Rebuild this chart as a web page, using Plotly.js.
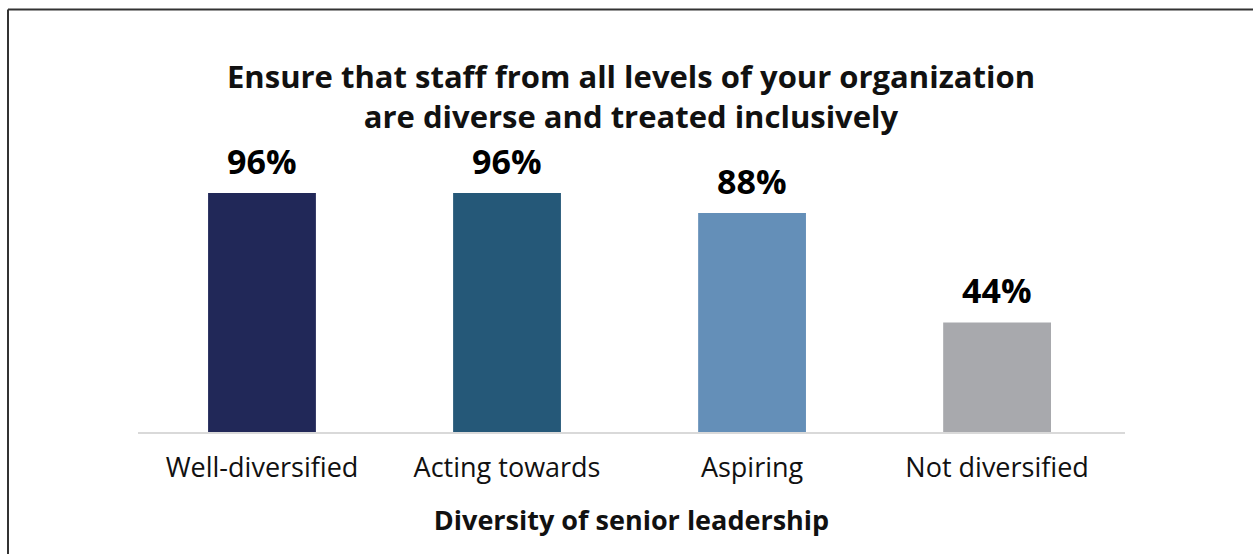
<!DOCTYPE html>
<html>
<head>
<meta charset="utf-8">
<script src="https://cdn.plot.ly/plotly-3.0.1.min.js"></script>
<style>
  html, body { margin: 0; padding: 0; background: #ffffff; }
  #chart { width: 1253px; height: 554px; }
</style>
</head>
<body>
<div id="chart"></div>
<script>
// Data
const categories = ["Well-diversified", "Acting towards", "Aspiring", "Not diversified"];
const values = [96, 96, 88, 44];
const valueLabels = ["96%", "96%", "88%", "44%"];
const barColors = ["#212858", "#255878", "#648fb8", "#a8a9ad"];
const chartTitle = "Ensure that staff from all levels of your organization<br>are diverse and treated inclusively";
const xAxisTitle = "Diversity of senior leadership";

// Layout geometry
const W = 1253, H = 554;
const M = { l: 138, r: 128, t: 183, b: 122 };
const plotW = W - M.l - M.r, plotH = H - M.t - M.b;
const px2x = p => (p - M.l) / plotW;
const px2y = p => (H - M.b - p) / plotH;

const font = "'Open Sans', 'Noto Sans', sans-serif";

const trace = {
  type: "bar",
  x: categories,
  y: values,
  marker: { color: barColors, line: { width: 0 } },
  width: 0.44,
  hoverinfo: "skip"
};

const annotations = categories.map((c, i) => ({
  x: c, y: values[i], xref: "x", yref: "y",
  text: "<b>" + valueLabels[i] + "</b>",
  showarrow: false, yanchor: "bottom", yshift: 7,
  font: { family: font, size: 34, color: "#000000" }
}));

const layout = {
  width: W, height: H,
  margin: M,
  paper_bgcolor: "#ffffff",
  plot_bgcolor: "#ffffff",
  showlegend: false,
  title: {
    text: "<b>" + chartTitle + "</b>",
    xref: "container", yref: "container",
    x: 631 / W, y: 1 - 88 / H, xanchor: "center", yanchor: "middle",
    font: { family: font, size: 31, color: "#111111" }
  },
  xaxis: {
    type: "category",
    range: [-0.506, 3.522],
    showline: true, linecolor: "#d9d9d9", linewidth: 2,
    showgrid: false, zeroline: false,
    ticks: "outside", ticklen: 11, tickcolor: "rgba(0,0,0,0)",
    tickfont: { family: font, size: 27, color: "#111111" },
    title: {
      text: "<b>" + xAxisTitle + "</b>",
      standoff: 27,
      font: { family: font, size: 27, color: "#111111" }
    }
  },
  yaxis: {
    range: [0, 100],
    visible: false,
    showgrid: false, zeroline: false
  },
  annotations: annotations,
  shapes: [
    { type: "line", xref: "paper", yref: "paper",
      x0: px2x(8), x1: px2x(8), y0: px2y(H + 5), y1: px2y(9.5),
      line: { color: "#333333", width: 2 } },
    { type: "line", xref: "paper", yref: "paper",
      x0: px2x(8), x1: px2x(W + 5), y0: px2y(9.5), y1: px2y(9.5),
      line: { color: "#333333", width: 2 } }
  ]
};

Plotly.newPlot("chart", [trace], layout, { displayModeBar: false, staticPlot: true });
</script>
</body>
</html>
